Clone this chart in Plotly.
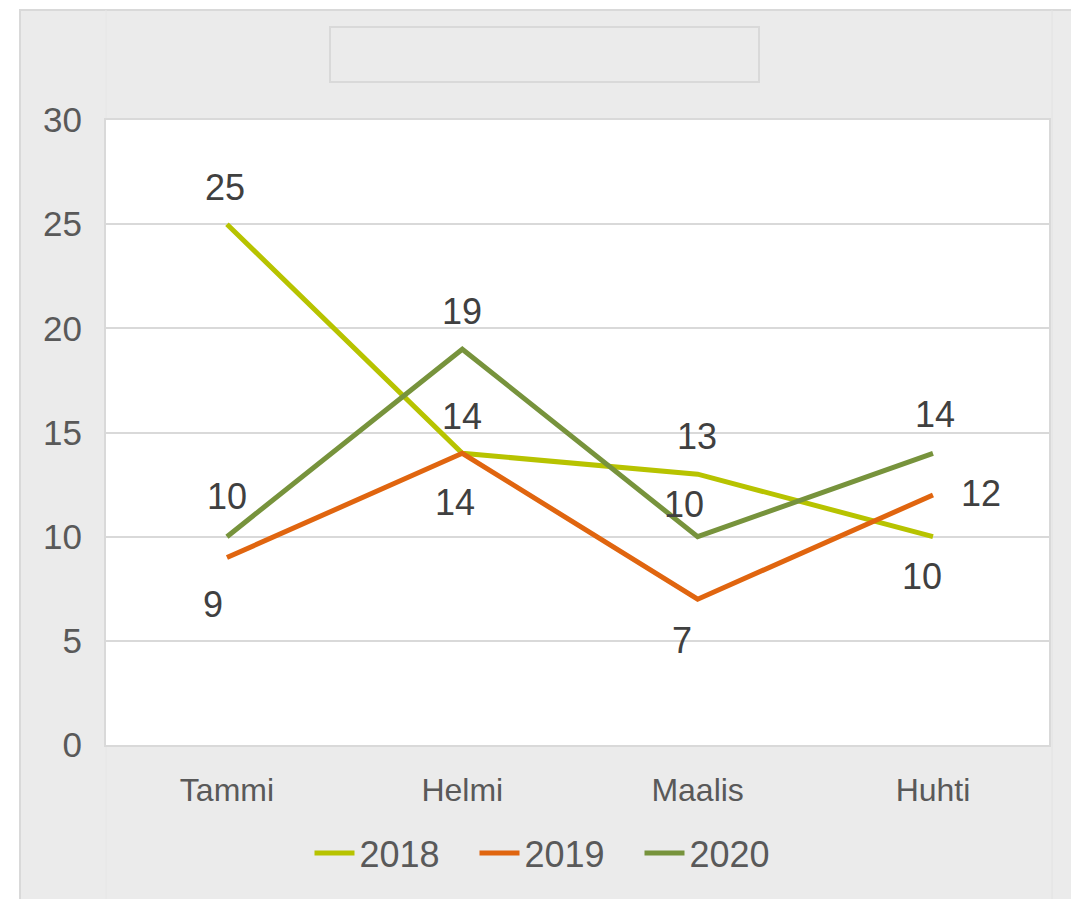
import plotly.graph_objects as go

categories = ["Tammi", "Helmi", "Maalis", "Huhti"]
series_names = ["2018", "2019", "2020"]
values_2018 = [25, 14, 13, 10]
values_2019 = [9, 14, 7, 12]
values_2020 = [10, 19, 10, 14]
y_ticks = [0, 5, 10, 15, 20, 25, 30]

series_values = [values_2018, values_2019, values_2020]
colors = ["#b7c300", "#e0650f", "#77933c"]

# label offsets (px) per series / point: (xshift, yshift)
label_offsets = [
    [(-2, 37), (0, 37), (-1, 38), (-11, -40)],
    [(-14, -47), (-7, -49), (-16, -41), (48, 2)],
    [(0, 40), (0, 38), (-14, 32), (2, 39)],
]

W, H = 1071, 899
L, R, T, B = 106, 22, 120, 154
pw, ph = W - L - R, H - T - B


def px_x(x):
    return (x - L) / pw


def px_y(y):
    return (H - B - y) / ph


fig = go.Figure()
for name, vals, col in zip(series_names, series_values, colors):
    fig.add_trace(go.Scatter(
        x=categories, y=vals, name=name, mode="lines",
        line=dict(color=col, width=5),
        hoverinfo="x+y+name",
    ))

annotations = []
for vals, offs in zip(series_values, label_offsets):
    for c, v, (dx, dy) in zip(categories, vals, offs):
        annotations.append(dict(
            x=c, y=v, xref="x", yref="y", text=str(v), showarrow=False,
            xshift=dx, yshift=dy, xanchor="center", yanchor="middle",
            font=dict(size=36, color="#404040", family="Liberation Sans, Arial, sans-serif"),
        ))

shapes = [
    # outer chart area
    dict(type="rect", xref="paper", yref="paper", layer="below",
         x0=px_x(20), x1=px_x(1090), y0=px_y(920), y1=px_y(10),
         fillcolor="#ebebeb", line=dict(color="#d9d9d9", width=2)),
    dict(type="line", xref="paper", yref="paper", layer="below",
         x0=px_x(1052), x1=px_x(1052), y0=px_y(920), y1=px_y(10),
         line=dict(color="#e2e2e2", width=1)),
    dict(type="line", xref="paper", yref="paper", layer="below",
         x0=px_x(106), x1=px_x(106), y0=px_y(920), y1=px_y(10),
         line=dict(color="#e6e6e6", width=1)),
    # white plot area
    dict(type="rect", xref="paper", yref="paper", layer="below",
         x0=0, x1=1, y0=0, y1=1, fillcolor="white", line=dict(width=0)),
    # empty title box
    dict(type="rect", xref="paper", yref="paper", layer="above",
         x0=px_x(330), x1=px_x(759), y0=px_y(82), y1=px_y(27),
         fillcolor="#ebebeb", line=dict(color="#d9d9d9", width=2)),
]

fig.update_layout(
    width=W, height=H,
    margin=dict(l=L, r=R, t=T, b=B, pad=0),
    paper_bgcolor="white",
    plot_bgcolor="white",
    font=dict(family="Liberation Sans, Arial, sans-serif", color="#595959"),
    showlegend=True,
    legend=dict(
        orientation="h", x=px_x(557), y=px_y(853), xanchor="center", yanchor="middle",
        font=dict(size=36, color="#595959"), bgcolor="rgba(0,0,0,0)",
        itemwidth=40, tracegroupgap=0,
        entrywidth=110, entrywidthmode="pixels",
    ),
    annotations=annotations,
    shapes=shapes,
    xaxis=dict(
        type="category", categoryorder="array", categoryarray=categories,
        range=[-0.514, 3.493], showgrid=False, zeroline=False,
        showline=True, linecolor="#d9d9d9", linewidth=2, mirror=True,
        ticks="", tickfont=dict(size=32, color="#595959"),
        ticklabelstandoff=16,
    ),
    yaxis=dict(
        range=[0, 30], tickvals=y_ticks, showgrid=True, gridcolor="#d9d9d9", gridwidth=2,
        zeroline=False, showline=True, linecolor="#d9d9d9", linewidth=2, mirror=True,
        ticks="", tickfont=dict(size=35, color="#595959"),
        ticklabelstandoff=15,
    ),
)

fig.write_html(
    "out.html",
    config={"displayModeBar": False},
    post_script="document.body.style.margin='0';document.body.style.overflow='hidden';",
)
